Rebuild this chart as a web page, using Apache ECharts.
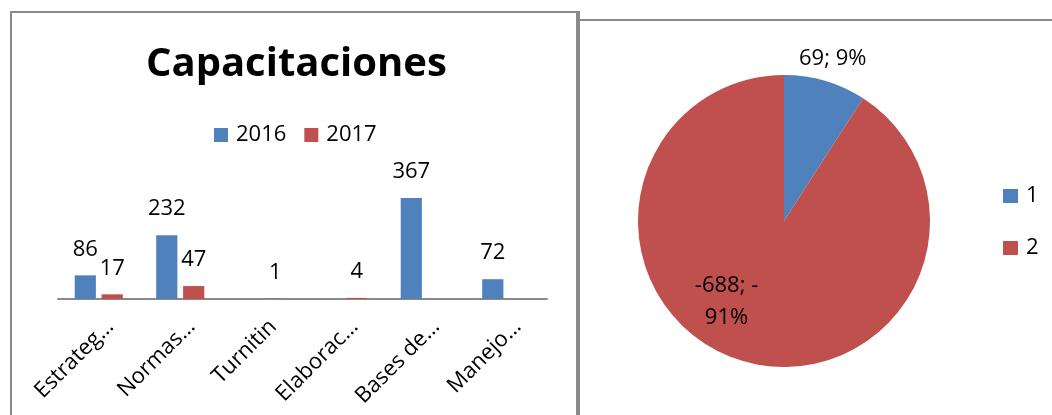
<!DOCTYPE html>
<html>
<head>
<meta charset="utf-8">
<script src="https://cdn.jsdelivr.net/npm/echarts@6/dist/echarts.min.js"></script>
<style>
html, body { margin: 0; padding: 0; background: #fff; }
#chart { width: 1052px; height: 415px; }
</style>
</head>
<body>
<div id="chart"></div>
<script>
const categories = ['Estrateg…', 'Normas…', 'Turnitin', 'Elaborac…', 'Bases de…', 'Manejo…']
const values2016 = [86, 232, null, null, 367, 72]
const values2017 = [17, 47, 1, 4, null, null]
const pieNames = ['1', '2']
const pieValues = [69, -688]

const BLUE = '#4f81bd'
const RED = '#c0504d'
const GRAY = '#8a8a8a'
const FONT = 'Open Sans'

const chart = echarts.init(document.getElementById('chart'))

const labelStyle = { fontFamily: FONT, fontSize: 22, color: '#000' }

const option = {
  animation: false,
  textStyle: { fontFamily: FONT },
  title: {
    text: 'Capacitaciones',
    left: 141,
    top: 40,
    textStyle: { fontFamily: FONT, fontSize: 40, fontWeight: 'bold', color: '#000' }
  },
  legend: [
    {
      data: ['2016', '2017'],
      left: 209,
      top: 119,
      icon: 'rect',
      itemWidth: 14,
      itemHeight: 14,
      itemGap: 18,
      textStyle: { ...labelStyle, padding: [0, 0, 0, 3] }
    },
    {
      data: pieNames,
      orient: 'vertical',
      left: 998,
      top: 180,
      icon: 'rect',
      itemWidth: 15,
      itemHeight: 14,
      itemGap: 30,
      textStyle: { ...labelStyle, padding: [0, 0, 0, 3] }
    }
  ],
  grid: { left: 58, right: 505, top: 189, bottom: 116 },
  xAxis: {
    type: 'category',
    data: categories,
    axisLine: { lineStyle: { color: GRAY, width: 2 } },
    axisTick: { show: false },
    axisLabel: {
      interval: 0,
      rotate: 45,
      margin: 20,
      verticalAlign: 'top',
      padding: [0, -5, 0, 0],
      ...labelStyle
    }
  },
  yAxis: { type: 'value', min: 0, max: 400, show: false },
  series: [
    {
      name: '2016',
      type: 'bar',
      data: values2016,
      barWidth: '26%',
      barGap: '27%',
      itemStyle: { color: BLUE },
      label: { show: true, position: 'top', distance: 15, ...labelStyle }
    },
    {
      name: '2017',
      type: 'bar',
      data: values2017,
      barWidth: '26%',
      itemStyle: { color: RED },
      label: { show: true, position: 'top', distance: 15, ...labelStyle }
    },
    {
      type: 'pie',
      center: [784, 221],
      radius: 146,
      avoidLabelOverlap: false,
      data: pieValues.map((v, i) => ({
        name: pieNames[i],
        value: Math.abs(v),
        raw: v,
        itemStyle: { color: i === 0 ? BLUE : RED },
        label: { position: i === 0 ? 'outside' : 'inside' }
      })),
      labelLine: { show: false, length: 23, length2: 0 },
      label: {
        ...labelStyle,
        lineHeight: 32,
        formatter: p => {
          const neg = p.data.raw < 0
          return p.data.raw + '; ' + (neg ? '-\n' : '') + Math.round(p.percent) + '%'
        }
      },
      labelLayout: p => p.dataIndex === 0 ? { align: 'center', dx: -4 } : { dx: -36, dy: 8 }
    }
  ],
  graphic: [
    { type: 'line', shape: { x1: 11, y1: 12, x2: 11, y2: 415 }, style: { stroke: GRAY, lineWidth: 2 } },
    { type: 'line', shape: { x1: 10, y1: 12, x2: 578, y2: 12 }, style: { stroke: GRAY, lineWidth: 2 } },
    { type: 'rect', shape: { x: 576, y: 11, width: 4, height: 404 }, style: { fill: GRAY } },
    { type: 'line', shape: { x1: 580, y1: 20, x2: 1052, y2: 20 }, style: { stroke: GRAY, lineWidth: 2 } }
  ]
}

chart.setOption(option)
</script>
</body>
</html>
